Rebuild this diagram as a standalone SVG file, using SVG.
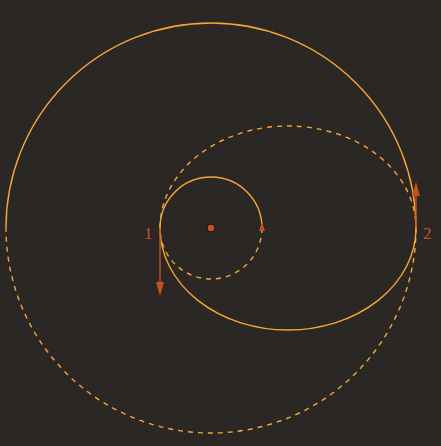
<svg xmlns="http://www.w3.org/2000/svg" width="441" height="446" viewBox="0 0 441 446">
<style>
.orb{fill:none;stroke:#f5a734;stroke-width:1.4}
.dash{stroke-dasharray:5,5}
.vec{stroke:#c3521f;stroke-width:1.4;fill:none}
.head{fill:#c3521f}
.lbl{font-family:"Liberation Serif",serif;font-size:17px;fill:#b8552d}
</style>
<rect width="441" height="446" fill="#2b2725"/>
<g id="connectors">
<path class="orb" d="M6,228 A205,205 0 0 1 416,228"/>
<path class="orb dash" d="M416,228 A205,205 0 0 1 6,228"/>
<path class="orb" d="M160,228 A51,51 0 0 1 262,228"/>
<path class="orb dash" d="M262,228 A51,51 0 0 1 160,228"/>
<path class="orb dash" d="M160,228 A128,102 0 0 1 416,228"/>
<path class="orb" d="M416,228 A128,102 0 0 1 160,228"/>
<line class="vec" x1="160" y1="228" x2="160" y2="285"/>
<polygon class="head" points="160,296 156,282 164,282"/>
<line class="vec" x1="416" y1="228" x2="416" y2="193"/>
<polygon class="head" points="416,182 412,196 420,196"/>
<polygon class="head" points="262,222 259,231 265,231"/>
</g>
<g id="center"><circle cx="211" cy="228" r="4" fill="#c3521f" stroke="#111" stroke-width="1"/></g>
<g id="p1"><text class="lbl" x="144" y="239">1</text></g>
<g id="p2"><text class="lbl" x="423" y="239">2</text></g>
</svg>
